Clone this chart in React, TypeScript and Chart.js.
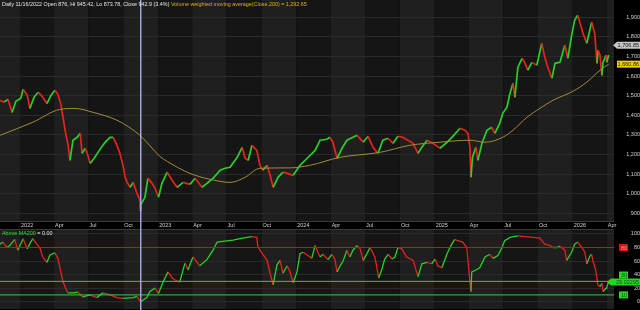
import React, { useEffect, useRef } from "react";
import { Chart, registerables } from "chart.js";

Chart.register(...registerables);

// ---------------- data ----------------
const xRange = ["2021-11-09", "2026-04-20"];

const quarterDates = [
  "2022-01-01", "2022-04-01", "2022-07-01", "2022-10-01",
  "2023-01-01", "2023-04-01", "2023-07-01", "2023-10-01",
  "2024-01-01", "2024-04-01", "2024-07-01", "2024-10-01",
  "2025-01-01", "2025-04-01", "2025-07-01", "2025-10-01",
  "2026-01-01", "2026-04-01",
];
const quarterLabels = [
  "2022", "Apr", "Jul", "Oct", "2023", "Apr", "Jul", "Oct",
  "2024", "Apr", "Jul", "Oct", "2025", "Apr", "Jul", "Oct",
  "2026", "Apr",
];

const priceTicks = [900, 1000, 1100, 1200, 1300, 1400, 1500, 1600, 1700, 1800, 1900];
const priceRange = [856, 1988];
const indTicks = [0, 20, 40, 60, 80, 100];
const indRange = [-10.8, 107.3];
const levels = [80, 30, 10];

const crosshairDate = "2022-11-16";
const headerDate = "11/16/2022";
const headerOpen = 876;
const headerHigh = 945.42;
const headerLow = 873.78;
const headerClose = 942.9;
const headerChangePct = 3.4;
const headerMA = "1,292.65";
const headerInd = "0.00";

const priceDates = [
  "2021-11-09", "2021-11-20", "2021-11-30", "2021-12-11", "2021-12-21",
  "2022-01-03", "2022-01-09", "2022-01-20", "2022-01-27", "2022-02-07", "2022-02-18", "2022-02-28",
  "2022-03-13", "2022-03-24", "2022-04-03", "2022-04-11", "2022-04-19", "2022-04-25", "2022-04-30",
  "2022-05-08", "2022-05-13", "2022-05-21", "2022-06-01", "2022-06-09", "2022-06-14", "2022-06-22",
  "2022-06-27", "2022-07-05", "2022-07-16", "2022-07-26", "2022-08-06", "2022-08-16", "2022-08-27",
  "2022-09-04", "2022-09-12", "2022-09-22", "2022-09-30", "2022-10-06", "2022-10-11", "2022-10-19",
  "2022-10-27", "2022-11-06", "2022-11-14", "2022-11-15", "2022-11-16", "2022-11-27", "2022-12-05",
  "2022-12-16", "2022-12-24",
  "2023-01-02", "2023-01-11", "2023-01-25", "2023-02-07", "2023-02-20", "2023-03-08", "2023-03-26",
  "2023-04-09", "2023-04-27", "2023-05-10", "2023-05-26", "2023-06-14", "2023-06-27", "2023-07-10",
  "2023-07-29", "2023-08-11", "2023-08-19", "2023-08-27", "2023-09-06", "2023-09-19", "2023-09-27",
  "2023-10-05", "2023-10-16", "2023-10-24", "2023-11-01", "2023-11-14", "2023-11-27", "2023-12-08",
  "2023-12-24",
  "2024-01-11", "2024-01-30", "2024-02-20", "2024-03-04", "2024-03-22", "2024-03-30", "2024-04-07",
  "2024-04-18", "2024-05-01", "2024-05-14", "2024-05-30", "2024-06-10", "2024-06-26", "2024-07-09",
  "2024-07-22", "2024-08-04", "2024-08-17", "2024-08-31", "2024-09-13", "2024-09-26", "2024-10-09",
  "2024-10-22", "2024-11-05", "2024-11-18", "2024-11-28", "2024-12-12", "2024-12-28",
  "2025-01-15", "2025-02-03", "2025-02-18", "2025-03-09", "2025-03-22", "2025-03-30", "2025-04-04",
  "2025-04-07", "2025-04-11", "2025-04-20", "2025-04-25", "2025-05-06", "2025-05-19", "2025-06-01",
  "2025-06-09", "2025-06-22", "2025-06-30", "2025-07-11", "2025-07-19", "2025-07-27", "2025-08-01",
  "2025-08-09", "2025-08-20", "2025-08-28", "2025-09-04", "2025-09-15", "2025-09-28", "2025-10-11",
  "2025-10-19", "2025-10-27", "2025-11-07", "2025-11-15", "2025-11-28", "2025-12-11", "2025-12-19",
  "2025-12-29",
  "2026-01-06", "2026-01-14", "2026-01-22", "2026-01-28", "2026-02-07", "2026-02-15", "2026-02-20",
  "2026-02-28", "2026-03-06", "2026-03-09", "2026-03-14", "2026-03-19", "2026-03-22", "2026-03-30",
  "2026-04-01", "2026-04-06",
];
const priceCloses = [
  1477, 1467, 1482, 1415, 1472,
  1487, 1533, 1502, 1435, 1492, 1518, 1497,
  1460, 1502, 1528, 1507, 1456, 1385, 1324,
  1247, 1170, 1273, 1288, 1308, 1206, 1232,
  1210, 1155, 1181, 1211, 1242, 1267, 1288,
  1288, 1257, 1206, 1145, 1084, 1058, 1033,
  1058, 1002, 967, 912, 942.9, 982, 1079,
  1053, 1028,
  982, 1053, 1110, 1069, 1033, 1058, 1048,
  1079, 1033, 1053, 1079, 1120, 1130, 1135,
  1186, 1237, 1181, 1170, 1247, 1221, 1145,
  1120, 1145, 1094, 1033, 1084, 1110, 1104,
  1094,
  1145, 1181, 1221, 1273, 1278, 1288, 1263,
  1181, 1232, 1273, 1288, 1298, 1263, 1293,
  1237, 1206, 1273, 1283, 1257, 1293, 1288,
  1273, 1257, 1206, 1237, 1273, 1257,
  1232, 1263, 1293, 1334, 1324, 1308, 1237,
  1084, 1186, 1237, 1170, 1257, 1324, 1339,
  1308, 1359, 1410, 1441, 1512, 1563, 1492,
  1645, 1691, 1665, 1630, 1670, 1655, 1767,
  1696, 1645, 1589, 1665, 1670, 1757, 1691,
  1808,
  1885, 1910, 1859, 1818, 1767, 1834, 1875,
  1818, 1665, 1732, 1706, 1604, 1670, 1706,
  1670, 1706.85,
];

const maDates = [
  "2021-11-09", "2022-02-04", "2022-04-16", "2022-05-26", "2022-07-13", "2022-09-14", "2022-11-14",
  "2023-01-06", "2023-01-25", "2023-03-26", "2023-05-18", "2023-07-10", "2023-08-19", "2023-09-27",
  "2023-12-15", "2024-02-06", "2024-04-26", "2024-08-09", "2024-10-27", "2025-01-15", "2025-04-04",
  "2025-05-14", "2025-06-30", "2025-07-27", "2025-09-02", "2025-10-06", "2025-11-10", "2026-01-02",
  "2026-02-07", "2026-03-14", "2026-04-06",
];
const maValues = [
  1298, 1365, 1430, 1435, 1415, 1375, 1298,
  1190, 1165, 1104, 1074, 1058, 1084, 1130,
  1132, 1145, 1186, 1211, 1247, 1263, 1273,
  1263, 1288, 1324, 1390, 1435, 1477, 1523,
  1569, 1630, 1660.86,
];

const indDates = [
  "2021-11-09", "2021-11-17", "2021-11-27", "2021-12-05", "2021-12-18", "2021-12-26",
  "2022-01-09", "2022-01-20", "2022-01-27", "2022-02-04", "2022-02-14", "2022-02-22", "2022-03-02",
  "2022-03-13", "2022-03-21", "2022-04-03", "2022-04-11", "2022-04-22", "2022-04-25", "2022-05-05",
  "2022-05-08", "2022-05-21", "2022-06-03", "2022-06-16", "2022-07-05", "2022-07-23", "2022-08-08",
  "2022-08-27", "2022-09-14", "2022-09-30", "2022-10-27", "2022-11-06", "2022-11-14", "2022-11-16",
  "2022-12-02", "2022-12-10", "2022-12-24",
  "2023-01-02", "2023-01-14", "2023-01-27", "2023-02-07", "2023-02-15", "2023-02-27", "2023-03-13",
  "2023-03-21", "2023-04-03", "2023-04-21", "2023-05-10", "2023-05-26", "2023-06-06", "2023-06-21",
  "2023-07-18", "2023-08-05", "2023-08-24", "2023-09-06", "2023-09-19", "2023-09-21", "2023-09-27",
  "2023-10-05", "2023-10-16", "2023-10-24", "2023-11-01", "2023-11-11", "2023-11-19", "2023-11-27",
  "2023-12-08", "2023-12-15", "2023-12-24",
  "2024-01-03", "2024-01-11", "2024-01-19", "2024-01-30", "2024-02-11", "2024-02-20", "2024-02-28",
  "2024-03-04", "2024-03-12", "2024-03-25", "2024-04-04", "2024-04-12", "2024-04-18", "2024-04-26",
  "2024-05-04", "2024-05-14", "2024-05-22", "2024-05-30", "2024-06-10", "2024-06-18", "2024-06-26",
  "2024-07-06", "2024-07-14", "2024-07-27", "2024-08-06", "2024-08-14", "2024-08-22", "2024-08-31",
  "2024-09-10", "2024-09-18", "2024-09-26", "2024-10-06", "2024-10-19", "2024-11-05", "2024-11-18",
  "2024-11-28", "2024-12-12", "2024-12-24",
  "2025-01-02", "2025-01-09", "2025-01-20", "2025-02-03", "2025-02-15", "2025-02-23", "2025-03-03",
  "2025-03-16", "2025-03-27", "2025-04-02", "2025-04-07", "2025-04-09", "2025-04-17", "2025-04-30",
  "2025-05-14", "2025-05-27", "2025-06-04", "2025-06-17", "2025-06-28", "2025-07-05", "2025-07-19",
  "2025-08-09", "2025-08-28", "2025-09-18", "2025-10-06", "2025-10-19", "2025-11-01", "2025-11-10",
  "2025-11-20", "2025-11-28", "2025-12-11", "2025-12-16", "2025-12-29",
  "2026-01-06", "2026-01-14", "2026-01-25", "2026-02-02", "2026-02-07", "2026-02-15", "2026-02-20",
  "2026-02-23", "2026-03-03", "2026-03-08", "2026-03-14", "2026-03-19", "2026-03-22", "2026-03-30",
  "2026-04-01", "2026-04-06",
];
const indValues = [
  85, 88, 80, 83, 92, 76,
  93, 78, 86, 93, 85, 80, 66,
  58, 69, 72, 64, 36, 29, 15,
  13, 13, 14, 7, 10, 6, 13,
  10, 6, 5, 6, 8, 1, 0,
  6, 15, 20,
  12, 29, 44, 35, 32, 29, 57,
  47, 66, 53, 62, 76, 88, 89,
  91, 93, 95, 96, 95, 83, 76,
  70, 61, 42, 25, 54, 61, 42,
  53, 45, 28,
  44, 71, 73, 69, 64, 83, 72,
  66, 70, 62, 70, 63, 44, 53,
  60, 76, 66, 76, 83, 78, 61,
  71, 80, 66, 35, 47, 63, 70,
  63, 66, 80, 78, 66, 61, 37,
  56, 58, 56,
  63, 53, 50, 71, 85, 92, 90,
  88, 80, 42, 15, 44, 46, 50,
  66, 70, 64, 68, 80, 90, 95,
  97, 96, 95, 94, 85, 83, 80,
  80, 82, 76, 61, 73,
  85, 88, 80, 73, 56, 67, 70,
  61, 46, 25, 22, 27, 15, 20,
  22, 29.02295,
];

// ---------------- helpers ----------------
const DAY_MS = 86400000;
const EPOCH = Date.UTC(2022, 0, 1);
function dayNum(s: string): number {
  const [y, m, d] = s.split("-").map(Number);
  return (Date.UTC(y, m - 1, d) - EPOCH) / DAY_MS;
}
const toPoints = (dates: string[], vals: number[]) =>
  dates.map((d, i) => ({ x: dayNum(d), y: vals[i] }));

const X_MIN = dayNum(xRange[0]);
const X_MAX = dayNum(xRange[1]);
const QUARTERS = quarterDates.map(dayNum);

const FONT = '"Liberation Sans", Arial, Helvetica, sans-serif';
const TICK_FONT = { family: FONT, size: 5.5 };
const TICK_COLOR = "#d2d2d2";
const GRID_COLOR = "#2a2a2a";
const GREEN = "#28d028";
const RED = "#e6231d";
const BAND_DARK = "#151515";
const BAND_LIGHT = "#1f1f1f";
const upDown = (ctx: any) => (ctx.p1.parsed.y >= ctx.p0.parsed.y ? GREEN : RED);
const fmt2 = (v: number) =>
  v.toLocaleString("en-US", { minimumFractionDigits: 2, maximumFractionDigits: 2 });

function drawTag(
  ctx: CanvasRenderingContext2D, text: string, y: number, left: number, right: number,
  fill: string, color: string, arrow: boolean
) {
  const h = 7;
  ctx.fillStyle = fill;
  ctx.beginPath();
  if (arrow) {
    ctx.moveTo(left - 4, y);
    ctx.lineTo(left, y - h / 2);
    ctx.lineTo(right, y - h / 2);
    ctx.lineTo(right, y + h / 2);
    ctx.lineTo(left, y + h / 2);
    ctx.closePath();
  } else {
    ctx.rect(left, y - h / 2, right - left, h);
  }
  ctx.fill();
  ctx.fillStyle = color;
  ctx.font = `5.5px ${FONT}`;
  ctx.textAlign = "right";
  ctx.textBaseline = "middle";
  ctx.fillText(text, right - 1, y + 0.5);
}

function drawHeader(ctx: CanvasRenderingContext2D, parts: { text: string; color: string }[], x: number, y: number) {
  ctx.font = `5.4px ${FONT}`;
  ctx.textAlign = "left";
  ctx.textBaseline = "middle";
  let cx = x;
  for (const p of parts) {
    ctx.fillStyle = p.color;
    ctx.fillText(p.text, cx, y);
    cx += ctx.measureText(p.text).width;
  }
}

function makePanelPlugin(
  headerParts: { text: string; color: string }[],
  tags: (chart: any) => void,
  borderTop: boolean
) {
  return {
    id: "panel",
    beforeDraw(chart: any) {
      const { ctx, chartArea: a, scales } = chart;
      const x = scales.x;
      ctx.save();
      ctx.fillStyle = "#000";
      ctx.fillRect(0, 0, chart.width, chart.height);
      let prev = x.min;
      let light = true;
      for (let k = 0; k <= QUARTERS.length; k++) {
        const end = k < QUARTERS.length ? Math.min(Math.max(QUARTERS[k], x.min), x.max) : x.max;
        const x0 = x.getPixelForValue(prev);
        const x1 = x.getPixelForValue(end);
        if (x1 > x0) {
          ctx.fillStyle = light ? BAND_LIGHT : BAND_DARK;
          ctx.fillRect(x0, a.top, x1 - x0, a.bottom - a.top);
        }
        if (k < QUARTERS.length) {
          prev = end;
          light = k % 2 === 1;
        }
      }
      ctx.strokeStyle = "#3a3a3a";
      ctx.lineWidth = 1;
      ctx.beginPath();
      if (borderTop) {
        ctx.moveTo(a.left, a.top + 0.5);
        ctx.lineTo(a.right, a.top + 0.5);
      } else {
        ctx.moveTo(a.left, a.bottom - 0.5);
        ctx.lineTo(a.right, a.bottom - 0.5);
      }
      ctx.stroke();
      ctx.restore();
    },
    afterDatasetsDraw(chart: any) {
      const { ctx, scales } = chart;
      const px = scales.x.getPixelForValue(dayNum(crosshairDate));
      ctx.save();
      ctx.strokeStyle = "rgba(172,172,232,0.95)";
      ctx.lineWidth = 1.5;
      ctx.beginPath();
      ctx.moveTo(px, 0);
      ctx.lineTo(px, chart.height);
      ctx.stroke();
      ctx.restore();
    },
    afterDraw(chart: any) {
      const { ctx, chartArea: a } = chart;
      ctx.save();
      drawHeader(ctx, headerParts, a.left + 2, a.top + 5);
      tags(chart);
      ctx.restore();
    },
  };
}

const yAxisBase = (min: number, max: number, tickValues: number[], fmt: (v: number) => string) => ({
  type: "linear",
  position: "right",
  min,
  max,
  grid: { color: GRID_COLOR, drawTicks: false, lineWidth: 1 },
  border: { display: false },
  ticks: {
    color: TICK_COLOR,
    font: TICK_FONT,
    padding: 0,
    crossAlign: "far",
    callback: (v: any) => fmt(Number(v)),
  },
  afterBuildTicks: (s: any) => {
    s.ticks = tickValues.map((v) => ({ value: v }));
  },
  afterFit: (s: any) => {
    s.width = 26;
    s.paddingTop = 0;
    s.paddingBottom = 0;
  },
});

export default function App() {
  const topRef = useRef<HTMLCanvasElement>(null);
  const botRef = useRef<HTMLCanvasElement>(null);

  useEffect(() => {
    const priceHeader = [
      {
        text: `Daily ${headerDate} Open ${headerOpen}, Hi ${headerHigh}, Lo ${headerLow}, Close ${headerClose} (${headerChangePct}%) `,
        color: "#e4e4e4",
      },
      { text: `Volume weighted moving average(Close,200) = ${headerMA}`, color: "#dcb400" },
    ];
    const indHeader = [
      { text: "Above MA200", color: "#2be02b" },
      { text: ` = ${headerInd}`, color: "#e4e4e4" },
    ];

    const priceTags = (chart: any) => {
      const { ctx, chartArea: a, scales } = chart;
      const y = scales.y;
      const lastMa = maValues[maValues.length - 1];
      const lastClose = priceCloses[priceCloses.length - 1];
      const yMa = y.getPixelForValue(lastMa);
      const yPx = Math.min(y.getPixelForValue(lastClose), yMa - 19);
      drawTag(ctx, fmt2(lastClose), yPx, a.right + 3, chart.width, "#c6c6c6", "#111", true);
      drawTag(ctx, fmt2(lastMa), yMa, a.right + 3, chart.width, "#f0d200", "#111", false);
    };

    const indTags = (chart: any) => {
      const { ctx, chartArea: a, scales } = chart;
      const y = scales.y;
      const last = indValues[indValues.length - 1];
      const tagY = y.getPixelForValue(last);
      levels.forEach((lv) => {
        let yy = y.getPixelForValue(lv);
        if (Math.abs(yy - tagY) < 8) yy = tagY - 7;
        const red = lv >= 50;
        drawTag(ctx, String(lv), yy, a.right + 5, a.right + 14,
          red ? "#d01414" : "#22d822", red ? "#ff9c9c" : "#0b4f0b", false);
      });
      drawTag(ctx, String(last), tagY, a.right - 3, chart.width, "#22d822", "#0b4f0b", true);
    };

    const c1 = new Chart(topRef.current as HTMLCanvasElement, {
      type: "line",
      data: {
        datasets: [
          {
            label: "VWMA 200",
            data: toPoints(maDates, maValues),
            borderColor: "#a08c3a",
            borderWidth: 1,
            pointRadius: 0,
            cubicInterpolationMode: "monotone",
          },
          {
            label: "Close",
            data: toPoints(priceDates, priceCloses),
            borderColor: GREEN,
            borderWidth: 1.7,
            pointRadius: 0,
            tension: 0,
            segment: { borderColor: upDown },
          },
        ],
      },
      options: {
        animation: false,
        responsive: false,
        maintainAspectRatio: false,
        events: [],
        layout: { padding: 0 },
        plugins: { legend: { display: false }, tooltip: { enabled: false } },
        scales: {
          x: {
            type: "linear",
            min: X_MIN,
            max: X_MAX,
            position: "bottom",
            grid: { display: false, drawTicks: false },
            border: { display: false },
            ticks: {
              color: TICK_COLOR,
              font: TICK_FONT,
              padding: 0,
              align: "start",
              maxRotation: 0,
              autoSkip: false,
              labelOffset: 1,
              callback: (_v: any, i: number) => quarterLabels[i] ?? "",
            },
            afterBuildTicks: (s: any) => {
              s.ticks = QUARTERS.map((v) => ({ value: v }));
            },
            afterFit: (s: any) => {
              s.height = 7;
              s.paddingLeft = 0;
              s.paddingRight = 0;
            },
          },
          y: yAxisBase(priceRange[0], priceRange[1], priceTicks, (v) => v.toLocaleString("en-US")),
        },
      } as any,
      plugins: [makePanelPlugin(priceHeader, priceTags, false) as any],
    });

    const c2 = new Chart(botRef.current as HTMLCanvasElement, {
      type: "line",
      data: {
        datasets: [
          ...levels.map((lv) => ({
            label: `Level ${lv}`,
            data: [{ x: X_MIN, y: lv }, { x: X_MAX, y: lv }],
            borderColor: lv >= 50 ? "#c81818" : "#38cc38",
            borderWidth: 1,
            pointRadius: 0,
          })),
          {
            label: "Above MA200",
            data: toPoints(indDates, indValues),
            borderColor: GREEN,
            borderWidth: 1.3,
            pointRadius: 0,
            tension: 0,
            segment: { borderColor: upDown },
          },
        ],
      },
      options: {
        animation: false,
        responsive: false,
        maintainAspectRatio: false,
        events: [],
        layout: { padding: { bottom: 1 } },
        plugins: { legend: { display: false }, tooltip: { enabled: false } },
        scales: {
          x: { type: "linear", min: X_MIN, max: X_MAX, display: false },
          y: yAxisBase(indRange[0], indRange[1], indTicks, (v) => String(v)),
        },
      } as any,
      plugins: [makePanelPlugin(indHeader, indTags, true) as any],
    });

    return () => {
      c1.destroy();
      c2.destroy();
    };
  }, []);

  return (
    <div
      style={{
        position: "fixed",
        left: 0,
        top: 0,
        width: 640,
        height: 310,
        background: "#000",
        overflow: "hidden",
      }}
    >
      <canvas
        ref={topRef}
        width={640}
        height={229}
        style={{ position: "absolute", left: 0, top: 0, width: 640, height: 229, display: "block" }}
      />
      <canvas
        ref={botRef}
        width={640}
        height={81}
        style={{ position: "absolute", left: 0, top: 229, width: 640, height: 81, display: "block" }}
      />
    </div>
  );
}
